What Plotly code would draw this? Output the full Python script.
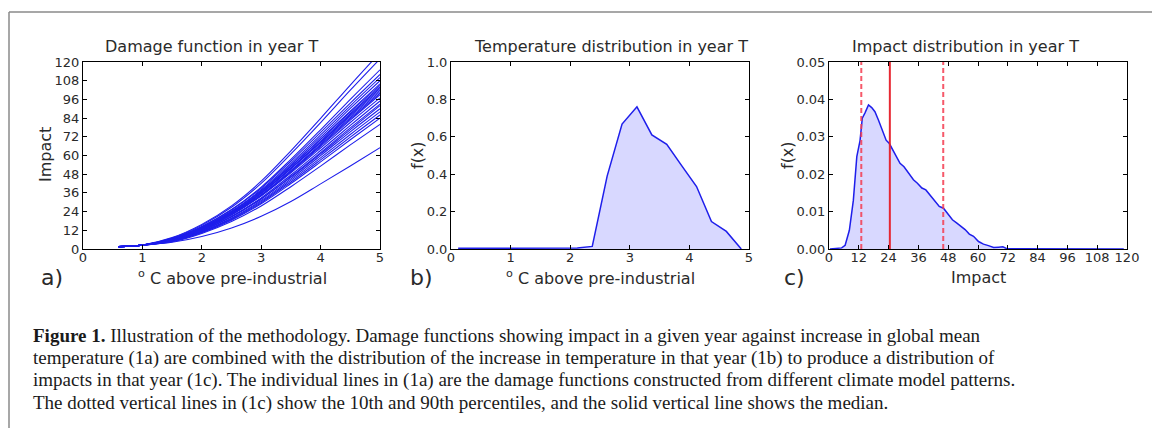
import plotly.graph_objects as go

W, H = 1152, 428

# ---------------- data ----------------
# (a) damage functions: impact vs warming for each climate-model pattern
temp_grid = [0.6, 1.0, 1.5, 2.0, 2.5, 3.0, 3.5, 4.0, 4.5, 5.0]
damage_curves = [
    [1.5, 2.6, 7.3, 15.8, 27.7, 43.5, 63.0, 83.8, 105.2, 126.0],
    [1.5, 2.6, 7.1, 15.3, 26.8, 42.1, 61.0, 81.1, 101.9, 122.0],
    [1.5, 2.6, 6.7, 14.4, 25.3, 39.7, 57.5, 76.5, 96.0, 115.0],
    [1.5, 2.6, 6.6, 14.3, 25.0, 39.0, 56.3, 74.8, 93.6, 112.0],
    [1.5, 2.5, 6.4, 13.8, 24.2, 38.0, 55.0, 73.2, 91.9, 110.0],
    [1.5, 2.5, 6.3, 13.5, 23.8, 37.3, 54.0, 71.8, 90.2, 108.0],
    [1.5, 2.5, 6.1, 13.3, 23.3, 36.6, 53.0, 70.5, 88.5, 106.0],
    [1.5, 2.5, 6.4, 13.9, 24.1, 37.2, 53.1, 70.3, 87.9, 105.0],
    [1.5, 2.5, 6.0, 13.0, 22.9, 35.9, 52.0, 69.2, 86.8, 104.0],
    [1.5, 2.5, 6.0, 12.9, 22.7, 35.5, 51.5, 68.5, 86.0, 103.0],
    [1.5, 2.5, 6.2, 13.4, 23.3, 36.0, 51.6, 68.2, 85.3, 102.0],
    [1.5, 2.5, 5.9, 12.6, 22.2, 34.8, 50.5, 67.2, 84.3, 101.0],
    [1.5, 2.5, 5.8, 12.5, 22.0, 34.5, 50.0, 66.5, 83.5, 100.0],
    [1.5, 2.5, 5.7, 12.4, 21.8, 34.2, 49.5, 65.8, 82.7, 99.0],
    [1.5, 2.5, 5.9, 12.8, 22.1, 34.2, 48.9, 64.8, 81.2, 97.0],
    [1.5, 2.5, 5.5, 11.9, 20.9, 32.8, 47.5, 63.2, 79.3, 95.0],
    [1.5, 2.5, 5.4, 11.6, 20.5, 32.1, 46.5, 61.8, 77.7, 93.0],
    [1.5, 2.5, 5.6, 12.1, 20.9, 32.2, 46.0, 61.0, 76.6, 92.0],
    [1.5, 2.5, 5.2, 11.3, 19.8, 31.1, 45.0, 59.9, 75.2, 90.0],
    [1.5, 2.5, 5.1, 11.0, 19.4, 30.4, 44.0, 58.5, 73.5, 88.0],
    [1.5, 2.5, 5.0, 10.8, 18.9, 29.7, 43.0, 57.2, 71.8, 86.0],
    [1.5, 2.5, 4.9, 10.5, 18.5, 29.0, 42.0, 55.9, 70.1, 84.0],
    [1.5, 2.4, 4.6, 10.0, 17.6, 27.6, 40.0, 53.2, 66.8, 80.0],
    [1.5, 2.4, 4.3, 8.0, 13.5, 21.0, 30.5, 41.8, 53.3, 65.0],
]

# (b) probability density of warming in year T
temp_x = [0.12, 0.37, 0.62, 0.87, 1.12, 1.37, 1.62, 1.87, 2.12, 2.37,
          2.62, 2.87, 3.12, 3.37, 3.62, 3.87, 4.12, 4.37, 4.62, 4.87]
temp_pdf = [0.004, 0.004, 0.004, 0.004, 0.004, 0.004, 0.004, 0.004, 0.005, 0.014,
            0.39, 0.668, 0.76, 0.61, 0.56, 0.446, 0.334, 0.147, 0.094, 0.0]

# (c) probability density of impact in year T
impact_x = [0.4, 5.1, 6.5, 8.2, 9.8, 11.2, 12.5, 13.4, 14.5, 15.9,
            17.2, 18.5, 19.9, 21.6, 23.0, 24.3, 25.3, 27.0, 28.6, 30.2,
            32.0, 34.0, 35.6, 37.4, 39.0, 40.7, 42.7, 44.4, 46.1, 48.1,
            49.7, 51.5, 53.5, 54.8, 56.5, 58.2, 60.2, 62.2, 64.2, 66.3,
            68.3, 70.0, 71.6, 118.7]
impact_pdf = [0.0, 0.0003, 0.001, 0.005, 0.013, 0.0247, 0.029, 0.035, 0.0364, 0.0385,
              0.0378, 0.0367, 0.0345, 0.0318, 0.0291, 0.0282, 0.0269, 0.0247, 0.0229, 0.022,
              0.0202, 0.0185, 0.0176, 0.0163, 0.0158, 0.0145, 0.0127, 0.0114, 0.0109, 0.0091,
              0.0078, 0.0069, 0.006, 0.0052, 0.004, 0.0034, 0.002, 0.0013, 0.0009, 0.0004,
              0.0005, 0.0006, 0.0001, 0.0]
impact_p10 = 13.0
impact_median = 24.5
impact_p90 = 46.0

caption_lines = [
    "<b>Figure 1.</b> Illustration of the methodology. Damage functions showing impact in a given year against increase in global mean",
    "temperature (1a) are combined with the distribution of the increase in temperature in that year (1b) to produce a distribution of",
    "impacts in that year (1c). The individual lines in (1a) are the damage functions constructed from different climate model patterns.",
    "The dotted vertical lines in (1c) show the 10th and 90th percentiles, and the solid vertical line shows the median.",
]

# ---------------- styling ----------------
BLUE = "rgb(30,30,235)"
FILL = "rgba(40,40,255,0.18)"
TXT = "#2a2a2a"
SANS = "DejaVu Sans"
SERIF = "Liberation Serif"


def px_x(p):
    # pixel from left -> paper fraction
    return p / W


def px_y(p):
    # pixel from top -> paper fraction
    return 1 - p / H


# axes boxes in pixels (left, right, top, bottom)
boxes = [(83, 380, 62, 249), (451, 749, 62, 249), (829, 1127, 62, 249)]

fig = go.Figure()

for ys in damage_curves:
    fig.add_trace(go.Scatter(x=temp_grid, y=ys, mode="lines",
                             line=dict(color=BLUE, width=1.1, shape="spline", smoothing=1.0),
                             xaxis="x", yaxis="y", showlegend=False, hoverinfo="skip"))

fig.add_trace(go.Scatter(x=temp_x, y=temp_pdf, mode="lines", fill="tozeroy", fillcolor=FILL,
                         line=dict(color=BLUE, width=1.5), xaxis="x2", yaxis="y2", showlegend=False))

fig.add_trace(go.Scatter(x=impact_x, y=impact_pdf, mode="lines", fill="tozeroy", fillcolor=FILL,
                         line=dict(color=BLUE, width=1.5), xaxis="x3", yaxis="y3", showlegend=False))

for xv, dash, col in [(impact_p10, "5px,3px", "rgba(245,60,80,0.85)"),
                      (impact_median, "solid", "rgba(230,30,40,0.95)"),
                      (impact_p90, "5px,3px", "rgba(245,60,80,0.85)")]:
    fig.add_trace(go.Scatter(x=[xv, xv], y=[0, 0.05], mode="lines", line=dict(color=col, width=2, dash=dash),
                             xaxis="x3", yaxis="y3", showlegend=False))


def axis_common():
    return dict(showline=True, linecolor="black", linewidth=1, mirror="ticks", ticks="inside",
                ticklen=4, tickcolor="black", showgrid=False, zeroline=False, automargin=False,
                tickfont=dict(family=SANS, size=13, color=TXT))


specs = [
    dict(xr=[0, 5], xt=[0, 1, 2, 3, 4, 5], yr=[0, 120], yt=list(range(0, 121, 12)), yl=None),
    dict(xr=[0, 5], xt=[0, 1, 2, 3, 4, 5], yr=[0, 1.0], yt=[0, 0.2, 0.4, 0.6, 0.8, 1.0],
         yl=["0.0", "0.2", "0.4", "0.6", "0.8", "1.0"]),
    dict(xr=[0, 120], xt=list(range(0, 121, 12)), yr=[0, 0.05], yt=[0, 0.01, 0.02, 0.03, 0.04, 0.05],
         yl=["0.00", "0.01", "0.02", "0.03", "0.04", "0.05"]),
]

layout = dict(template="none", width=W, height=H, autosize=False,
              margin=dict(l=0, r=0, t=0, b=0, pad=0, autoexpand=False),
              paper_bgcolor="white", plot_bgcolor="white", showlegend=False)
for i, (box, sp) in enumerate(zip(boxes, specs)):
    sfx = "" if i == 0 else str(i + 1)
    l, r, t, b = box
    xa = axis_common()
    xa.update(domain=[px_x(l), px_x(r)], range=sp["xr"], tickvals=sp["xt"], anchor="y" + sfx,
              ticklabelstandoff=-4)
    ya = axis_common()
    ya.update(domain=[px_y(b), px_y(t)], range=sp["yr"], tickvals=sp["yt"], anchor="x" + sfx)
    if sp["yl"]:
        ya["ticktext"] = sp["yl"]
    layout["xaxis" + sfx] = xa
    layout["yaxis" + sfx] = ya

annotations = []


def add_text(x, y, text, size, family=SANS, angle=0, xanchor="center", color=TXT):
    annotations.append(dict(xref="paper", yref="paper", x=px_x(x), y=px_y(y), text=text, showarrow=False,
                            xanchor=xanchor, yanchor="middle", textangle=angle, borderpad=0,
                            font=dict(family=family, size=size, color=color)))


# subplot titles
add_text(212, 47, "Damage function in year T", 16)
add_text(611, 47, "Temperature distribution in year T", 16)
add_text(965, 47, "Impact distribution in year T", 16)

# axis labels
add_text(232, 277, "<sup>o</sup> C above pre-industrial", 16)
add_text(600, 277, "<sup>o</sup> C above pre-industrial", 16)
add_text(978, 277, "Impact", 16)
add_text(45, 155, "Impact", 16, angle=-90)
add_text(417, 155, "f(x)", 16, angle=-90)
add_text(787, 155, "f(x)", 16, angle=-90)

# panel letters
add_text(52, 277, "a)", 22)
add_text(421, 277, "b)", 22)
add_text(794, 277, "c)", 22)

# caption
for k, line in enumerate(caption_lines):
    add_text(32, 335 + 22.5 * k, line, 19, family=SERIF, xanchor="left", color="#1a1a1a")

layout["annotations"] = annotations

# frame around the figure (left and top edges)
layout["shapes"] = [
    dict(type="line", xref="paper", yref="paper", x0=px_x(9), x1=px_x(9), y0=0, y1=px_y(12),
         line=dict(color="#8a8a8a", width=1.5)),
    dict(type="line", xref="paper", yref="paper", x0=px_x(9), x1=1, y0=px_y(12), y1=px_y(12),
         line=dict(color="#8a8a8a", width=1.5)),
]

fig.update_layout(**layout)
# let the plot fill the page edge to edge
fig.write_html("out.html", post_script="document.body.style.margin='0';document.body.style.overflow='hidden';")
